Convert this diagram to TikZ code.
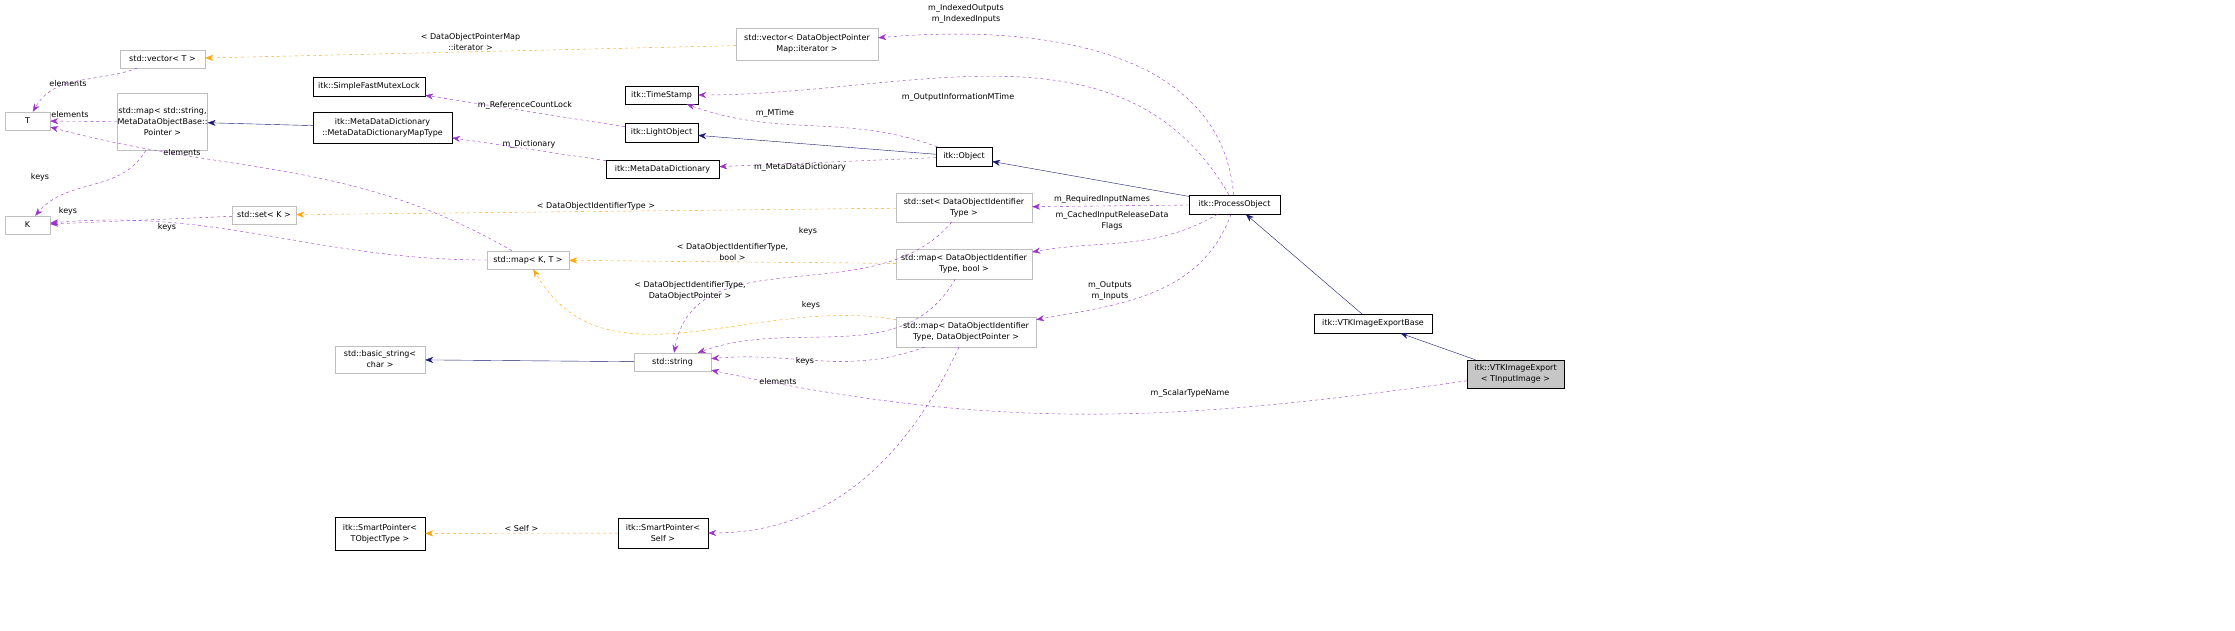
\documentclass[tikz,border=0pt]{standalone}
\usepackage{fontspec}
\setmainfont{DejaVu Sans}
\usetikzlibrary{arrows.meta}
\definecolor{purp}{HTML}{9A32CD}
\definecolor{orng}{HTML}{FFA500}
\definecolor{navy}{HTML}{191970}
\definecolor{gr}{HTML}{BFBFBF}
\tikzset{
 b/.style={draw=black,fill=white,inner sep=0pt,align=center,font=\fontsize{8}{11}\selectfont},
 g/.style={b,draw=gr},
 use/.style={draw=purp,dashed,-{Stealth[length=8pt,width=6pt]}},
 tmpl/.style={draw=orng,dashed,-{Stealth[length=8pt,width=6pt]}},
 inh/.style={draw=navy,-{Stealth[length=8pt,width=6pt]}},
 lb/.style={font=\fontsize{8}{11}\selectfont,align=center,inner sep=1pt}
}
\newcommand{\bx}[7]{\node[#7,minimum width=#4pt-#2pt,minimum height=#5pt-#3pt] (#1) at ({(#2+#4)/2},{(#3+#5)/2}) {#6};}
\begin{document}
\begin{tikzpicture}[x=1pt,y=-1pt]
\useasboundingbox (0,0) rectangle (2235,631);
\bx{T}{5}{112}{50}{130}{T}{g}
\bx{K}{5}{216}{50}{234}{K}{g}
\bx{vecT}{120}{50}{205}{68}{std::vector< T >}{g}
\bx{mapS}{120}{93}{205}{150}{std::map< std::string,\\ MetaDataObjectBase::\\ Pointer >}{g}
\bx{mutex}{313}{77}{425}{96}{itk::SimpleFastMutexLock}{b}
\bx{mdmt}{313}{112}{452}{143}{itk::MetaDataDictionary\\ ::MetaDataDictionaryMapType}{b}
\bx{setK}{232}{206}{296}{224}{std::set< K >}{g}
\bx{mapKT}{487}{251}{569}{269}{std::map< K, T >}{g}
\bx{bstr}{335}{346}{425}{373}{std::basic\_string<\\ char >}{g}
\bx{str}{634}{353}{711}{371}{std::string}{g}
\bx{spT}{335}{517}{425}{550}{itk::SmartPointer<\\ TObjectType >}{b}
\bx{spS}{618}{518}{708}{548}{itk::SmartPointer<\\ Self >}{b}
\bx{vecI}{736}{28}{878}{60}{std::vector< DataObjectPointer\\ Map::iterator >}{g}
\bx{ts}{625}{86}{698}{104}{itk::TimeStamp}{b}
\bx{lo}{625}{123}{698}{142}{itk::LightObject}{b}
\bx{mdd}{606}{160}{719}{178}{itk::MetaDataDictionary}{b}
\bx{obj}{936}{147}{992}{166}{itk::Object}{b}
\bx{setD}{896}{193}{1032}{222}{std::set< DataObjectIdentifier\\ Type >}{g}
\bx{mapB}{896}{249}{1032}{279}{std::map< DataObjectIdentifier\\ Type, bool >}{g}
\bx{mapP}{896}{317}{1036}{347}{std::map< DataObjectIdentifier\\ Type, DataObjectPointer >}{g}
\bx{po}{1189}{195}{1280}{214}{itk::ProcessObject}{b}
\bx{veb}{1314}{314}{1432}{333}{itk::VTKImageExportBase}{b}
\node[b,fill=gray!45,minimum width=97pt,minimum height=28pt] (ve) at (1515.5,374) {itk::VTKImageExport\\ < TInputImage >};
% edges
\draw[use] (vecT) to[out=200,in=60] (T);
\node[lb] at (68,84) {elements};
\draw[use] (mapS.west) -- (T);
\node[lb] at (70,115) {elements};
\draw[use] (mapS) to[out=240,in=50] (K);
\node[lb] at (40,177) {keys};
\draw[use] (setK) -- (K);
\node[lb] at (68,211) {keys};
\draw[use] (mapKT) to[out=180,in=5] (K);
\node[lb] at (167,227) {keys};
\draw[use] (mapKT) to[out=150,in=-15] (T);
\node[lb] at (182,153) {elements};
\draw[tmpl] (vecI) -- node[lb,above]{< DataObjectPointerMap\\ ::iterator >} (vecT);
\draw[inh] (mdmt) -- (mapS);
\draw[use] (lo) -- node[lb,above]{m\_ReferenceCountLock} (mutex);
\draw[use] (mdd) -- node[lb,above]{m\_Dictionary} (mdmt);
\draw[use] (obj) to[out=160,in=-20] (ts);
\node[lb] at (775,113) {m\_MTime};
\draw[inh] (obj) -- (lo);
\draw[use] (obj) -- (mdd);
\node[lb] at (800,167) {m\_MetaDataDictionary};
\draw[inh] (po) -- (obj);
\draw[use] (po) to[out=120,in=0] (ts);
\node[lb] at (958,97) {m\_OutputInformationMTime};
\draw[use] (po) to[out=95,in=5] (vecI);
\node[lb] at (966,14) {m\_IndexedOutputs\\ m\_IndexedInputs};
\draw[use] (po) -- (setD);
\node[lb] at (1102,199) {m\_RequiredInputNames};
\draw[use] (po) to[out=210,in=10] (mapB);
\node[lb] at (1112,221) {m\_CachedInputReleaseData\\ Flags};
\draw[use] (po) to[out=250,in=10] (mapP);
\node[lb] at (1110,291) {m\_Outputs\\ m\_Inputs};
\draw[tmpl] (setD) -- node[lb,above]{< DataObjectIdentifierType >} (setK);
\draw[use] (setD) to[out=230,in=80] (str);
\node[lb] at (808,231) {keys};
\draw[tmpl] (mapB) -- node[lb,above]{< DataObjectIdentifierType,\\ bool >} (mapKT);
\draw[use] (mapB) to[out=240,in=20] (str);
\node[lb] at (811,305) {keys};
\draw[tmpl] (mapP) to[out=170,in=-60] (mapKT);
\node[lb] at (690,291) {< DataObjectIdentifierType,\\ DataObjectPointer >};
\draw[use] (mapP) to[out=200,in=5] (str);
\node[lb] at (805,361) {keys};
\draw[use] (mapP) to[out=245,in=0] (spS);
\node[lb] at (778,382) {elements};
\draw[inh] (str) -- (bstr);
\draw[tmpl] (spS) -- node[lb,above]{< Self >} (spT);
\draw[inh] (veb) -- (po);
\draw[inh] (ve) -- (veb);
\draw[use] (ve) to[out=188,in=-12] (str);
\node[lb] at (1190,393) {m\_ScalarTypeName};
\end{tikzpicture}
\end{document}
